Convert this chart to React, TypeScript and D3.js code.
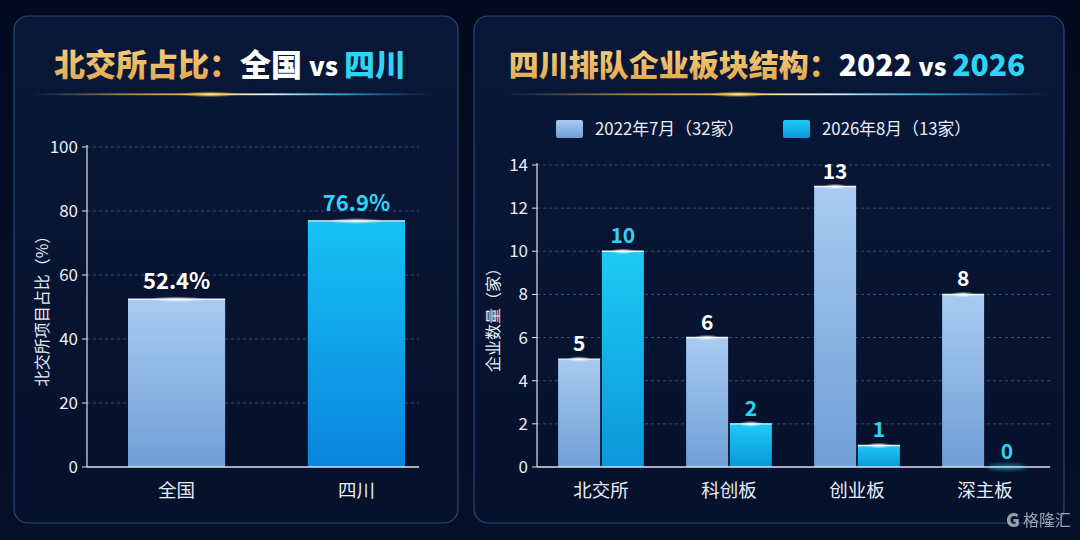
import React from 'react';
import * as d3 from 'd3';

// 左图：北交所占比
const shareCats = ['全国', '四川'];
const shareValues = [52.4, 76.9];
const shareTicks = [0, 20, 40, 60, 80, 100];

// 右图：四川排队企业板块结构
const boardCats = ['北交所', '科创板', '创业板', '深主板'];
const series2022 = [5, 6, 13, 8];
const series2026 = [10, 2, 1, 0];
const seriesNames = ['2022年7月（32家）', '2026年8月（13家）'];
const countTicks = [0, 2, 4, 6, 8, 10, 12, 14];

const FONT = '"Noto Sans CJK SC", "Noto Sans", sans-serif';
const CYAN = '#2fd3f3';
const AXIS = '#d8e2f0';

const W = 1080;
const H = 540;

const Defs = () => (
  <defs>
    <linearGradient id="bg" x1="0" y1="0" x2="0" y2="1">
      <stop offset="0" stopColor="#020a1e" />
      <stop offset="1" stopColor="#041029" />
    </linearGradient>
    <linearGradient id="panel" x1="0" y1="0" x2="0" y2="1">
      <stop offset="0" stopColor="#091838" />
      <stop offset="1" stopColor="#06112b" />
    </linearGradient>
    <linearGradient id="light" x1="0" y1="0" x2="0" y2="1">
      <stop offset="0" stopColor="#a9cbf1" />
      <stop offset="1" stopColor="#6f9fd6" />
    </linearGradient>
    <linearGradient id="cyan" x1="0" y1="0" x2="0" y2="1">
      <stop offset="0" stopColor="#1dcbf3" />
      <stop offset="1" stopColor="#0b97da" />
    </linearGradient>
    <linearGradient id="cyanL" x1="0" y1="0" x2="0" y2="1">
      <stop offset="0" stopColor="#16c2f5" />
      <stop offset="1" stopColor="#0a84de" />
    </linearGradient>
    <linearGradient id="goldTxt" x1="0" y1="0" x2="0" y2="1">
      <stop offset="0" stopColor="#f8d68a" />
      <stop offset="1" stopColor="#e0a448" />
    </linearGradient>
    <linearGradient id="divL" x1="0" y1="0" x2="1" y2="0">
      <stop offset="0" stopColor="#c8a060" stopOpacity="0" />
      <stop offset="0.22" stopColor="#d0a050" stopOpacity="0.75" />
      <stop offset="0.45" stopColor="#ffd070" stopOpacity="1" />
      <stop offset="0.59" stopColor="#e0f4ff" stopOpacity="1" />
      <stop offset="0.78" stopColor="#3aa8e0" stopOpacity="0.9" />
      <stop offset="1" stopColor="#2a7fc8" stopOpacity="0" />
    </linearGradient>
    <radialGradient id="glow">
      <stop offset="0" stopColor="#ffffff" stopOpacity="0.95" />
      <stop offset="1" stopColor="#ffffff" stopOpacity="0" />
    </radialGradient>
    <radialGradient id="goldGlow">
      <stop offset="0" stopColor="#fff0b0" stopOpacity="1" />
      <stop offset="0.4" stopColor="#ffc850" stopOpacity="0.7" />
      <stop offset="1" stopColor="#ffb030" stopOpacity="0" />
    </radialGradient>
    <filter id="soft" x="-50%" y="-50%" width="200%" height="200%">
      <feGaussianBlur stdDeviation="2" />
    </filter>
  </defs>
);

const Panel = ({ x, w }: { x: number; w: number }) => (
  <rect x={x} y={16} width={w} height={507} rx={14} fill="url(#panel)" stroke="#3b5f94" strokeOpacity={0.7} strokeWidth={1.2} />
);

const Divider = ({ x1, x2, peak }: { x1: number; x2: number; peak: number }) => (
  <g>
    <rect x={x1} y={93.4} width={x2 - x1} height={1.8} fill="url(#divL)" />
    <ellipse cx={peak} cy={94.3} rx={30} ry={3} fill="url(#goldGlow)" />
  </g>
);

const TopGlow = ({ cx, y, w }: { cx: number; y: number; w: number }) => (
  <g>
    <line x1={cx - w / 2} x2={cx + w / 2} y1={y} y2={y} stroke="#eaf6ff" strokeWidth={1.4} />
    <ellipse cx={cx} cy={y} rx={w * 0.3} ry={3} fill="url(#glow)" />
  </g>
);

function ShareChart() {
  const x0 = 87;
  const gridEnd = 419;
  const y = d3.scaleLinear().domain([0, 100]).range([467, 147]);
  const x = d3.scaleBand().domain(shareCats).range([x0, 446]).paddingInner(0.46).paddingOuter(0.228);
  const fills = ['url(#light)', 'url(#cyanL)'];
  const labelColors = ['#ffffff', CYAN];
  return (
    <g>
      {shareTicks.map((t) => (
        <g key={t}>
          {t > 0 && (
            <line x1={x0} x2={gridEnd} y1={y(t)} y2={y(t)} stroke="#5a7aab" strokeOpacity={0.55} strokeDasharray="3,3" />
          )}
          <line x1={x0 - 5} x2={x0} y1={y(t)} y2={y(t)} stroke={AXIS} />
          <text x={x0 - 9} y={y(t)} dy="0.35em" textAnchor="end" fill="#e6edf7" fontSize={17} fontFamily={FONT}>
            {t}
          </text>
        </g>
      ))}
      {shareCats.map((c, i) => {
        const bx = x(c) as number;
        const bw = x.bandwidth();
        const top = y(shareValues[i]);
        return (
          <g key={c}>
            <rect x={bx} y={top} width={bw} height={y(0) - top} fill={fills[i]} />
            <TopGlow cx={bx + bw / 2} y={top} w={bw} />
            <text x={bx + bw / 2} y={top - 10} textAnchor="middle" fill={labelColors[i]} fontSize={22} fontWeight={700} fontFamily={FONT}>
              {shareValues[i].toFixed(1)}%
            </text>
            <text x={bx + bw / 2} y={497} textAnchor="middle" fill="#e6edf7" fontSize={18.5} fontFamily={FONT}>
              {c}
            </text>
          </g>
        );
      })}
      <line x1={x0} x2={x0} y1={y(100) - 2} y2={y(0)} stroke={AXIS} strokeWidth={1.2} />
      <line x1={x0} x2={gridEnd} y1={y(0)} y2={y(0)} stroke={AXIS} strokeWidth={1.4} />
      <text transform={`translate(42,${(y(0) + y(100)) / 2}) rotate(-90)`} textAnchor="middle" dy="0.35em" fill="#e6edf7" fontSize={16} fontFamily={FONT}>
        北交所项目占比（%）
      </text>
    </g>
  );
}

function BoardChart() {
  const x0 = 537;
  const gridEnd = 1050;
  const y = d3.scaleLinear().domain([0, 14]).range([467, 165]);
  const xg = d3.scaleBand().domain(boardCats).range([x0, 1049]).paddingInner(0.33).paddingOuter(0.165);
  const xs = d3.scaleBand().domain(['a', 'b']).range([0, xg.bandwidth()]).paddingInner(0.04);
  const series = [series2022, series2026];
  const fills = ['url(#light)', 'url(#cyan)'];
  const labelColors = ['#ffffff', CYAN];
  return (
    <g>
      {countTicks.map((t) => (
        <g key={t}>
          {t > 0 && (
            <line x1={x0} x2={gridEnd} y1={y(t)} y2={y(t)} stroke="#5a7aab" strokeOpacity={0.55} strokeDasharray="3,3" />
          )}
          <line x1={x0 - 5} x2={x0} y1={y(t)} y2={y(t)} stroke={AXIS} />
          <text x={x0 - 9} y={y(t)} dy="0.35em" textAnchor="end" fill="#e6edf7" fontSize={17} fontFamily={FONT}>
            {t}
          </text>
        </g>
      ))}
      {boardCats.map((c, gi) => {
        const gx = xg(c) as number;
        return (
          <g key={c}>
            {series.map((s, si) => {
              const bx = gx + (xs(si === 0 ? 'a' : 'b') as number);
              const bw = xs.bandwidth();
              const top = y(s[gi]);
              return (
                <g key={si}>
                  {s[gi] > 0 && <rect x={bx} y={top} width={bw} height={y(0) - top} fill={fills[si]} />}
                  {s[gi] > 0 ? (
                    <TopGlow cx={bx + bw / 2} y={top} w={bw} />
                  ) : (
                    <ellipse cx={bx + bw / 2} cy={top} rx={bw * 0.45} ry={2.5} fill={CYAN} opacity={0.6} filter="url(#soft)" />
                  )}
                  <text x={bx + bw / 2} y={top - 8} textAnchor="middle" fill={labelColors[si]} fontSize={21} fontWeight={700} fontFamily={FONT}>
                    {s[gi]}
                  </text>
                </g>
              );
            })}
            <text x={gx + xg.bandwidth() / 2} y={497} textAnchor="middle" fill="#e6edf7" fontSize={18.5} fontFamily={FONT}>
              {c}
            </text>
          </g>
        );
      })}
      <line x1={x0} x2={x0} y1={y(14) - 2} y2={y(0)} stroke={AXIS} strokeWidth={1.2} />
      <line x1={x0} x2={gridEnd} y1={y(0)} y2={y(0)} stroke={AXIS} strokeWidth={1.4} />
      <text transform={`translate(493,${(y(0) + y(14)) / 2}) rotate(-90)`} textAnchor="middle" dy="0.35em" fill="#e6edf7" fontSize={16} fontFamily={FONT}>
        企业数量（家）
      </text>
      {/* 图例 */}
      {seriesNames.map((n, i) => {
        const lx = [556, 783][i];
        return (
          <g key={n}>
            <rect x={lx} y={120} width={27} height={18} rx={2} fill={fills[i]} />
            <text x={lx + 39} y={129.5} dy="0.35em" fill="#e6edf7" fontSize={16.8} fontFamily={FONT}>
              {n}
            </text>
          </g>
        );
      })}
    </g>
  );
}

export default function App() {
  return (
    <svg width={W} height={H} style={{ display: 'block', position: 'absolute', left: 0, top: 0 }}>
      <Defs />
      <rect width={W} height={H} fill="url(#bg)" />
      <Panel x={14} w={444} />
      <Panel x={474} w={590} />

      <text x={230} y={76} textAnchor="middle" fontSize={31} fontWeight={900} fontFamily={FONT}>
        <tspan fill="url(#goldTxt)">北交所占比：</tspan>
        <tspan fill="#ffffff">全国 </tspan>
        <tspan fill="#ffffff" fontSize={26}>vs </tspan>
        <tspan fill={CYAN}>四川</tspan>
      </text>
      <Divider x1={33} x2={432} peak={210} />

      <text x={767} y={76} textAnchor="middle" fontSize={30} fontWeight={900} fontFamily={FONT}>
        <tspan fill="url(#goldTxt)">四川排队企业板块结构：</tspan>
        <tspan fill="#ffffff">2022 </tspan>
        <tspan fill="#ffffff" fontSize={25}>vs </tspan>
        <tspan fill={CYAN}>2026</tspan>
      </text>
      <Divider x1={505} x2={1050} peak={738} />

      <ShareChart />
      <BoardChart />

      {/* 水印 */}
      <g opacity={0.75}>
        <text x={1006} y={527} fill="#c8d0dc" fontSize={19} fontWeight={900} fontFamily={FONT}>G</text>
        <text x={1023} y={526} fill="#c8d0dc" fontSize={16} fontFamily={FONT}>格隆汇</text>
      </g>
    </svg>
  );
}
